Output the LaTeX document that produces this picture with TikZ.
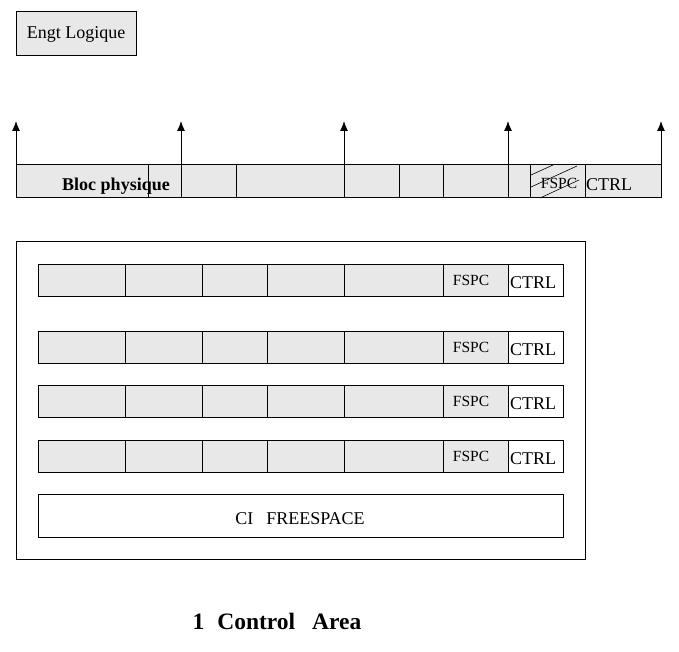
\documentclass[tikz,border=0pt]{standalone}
\usepackage{fontspec}
\setmainfont{Liberation Serif}
\usetikzlibrary{arrows.meta,positioning}

\begin{document}
\begin{tikzpicture}[x=1pt,y=-1pt,draw=black,>={Latex[length=10pt,width=8pt]},line width=1pt]
	\tikzstyle{cell}=[draw,fill=black!9]
	\tikzstyle{blank}=[draw,fill=white]
	\tikzstyle{big}=[font=\fontsize{18}{20}\selectfont,inner sep=0pt]
	\tikzstyle{small}=[font=\fontsize{15.5}{17}\selectfont,inner sep=0pt]
\useasboundingbox (0,0) rectangle (679,652);

% logical record
\node[cell,big,minimum width=120pt,minimum height=44pt](engt) at (76,34){Engt Logique};

% physical block
\draw[cell] (16,165) rectangle (661,198);
\foreach \x in {148,236,399,443,530,585}
	\draw (\x,165) -- (\x,198);
\draw[line width=0.6pt] (531,175) -- (553,165);
\draw[line width=0.6pt] (531,187) -- (577,166);
\draw[line width=0.6pt] (540,198) -- (579,180);
\node[font=\fontsize{18}{20}\selectfont\bfseries,inner sep=0pt](bloc) at (116,186){Bloc physique};
\node[small](fspc0) at (559,183){FSPC};
\node[big](ctrl0) at (609,185){CTRL};

% record starts
\foreach \x [count=\i] in {16,181,344,508,661}{
	\coordinate (b\i) at (\x,198);
	\coordinate (t\i) at (\x,121);
	\draw[->] (b\i) -- (t\i);
}

% control area
\draw[fill=white] (16,241) rectangle (585,559);
\foreach \y [count=\r] in {264,331,385,440}{
	\draw[cell] (38,\y) rectangle (508,\y+32);
	\draw[blank] (508,\y) rectangle (563,\y+32);
	\foreach \x in {125,202,267,344,443}
		\draw (\x,\y) -- (\x,\y+32);
	\node[small](fspc\r) at (471,\y+16){FSPC};
	\node[big](ctrl\r) at (533,\y+19){CTRL};
}
\draw[blank] (38,494) rectangle (563,537);
\node[big](free) at (300,519){CI\hspace{13pt}FREESPACE};

\node[font=\fontsize{23.5}{26}\selectfont\bfseries,inner sep=0pt](title) at (277,621){1\hspace{13pt}Control\hspace{17pt}Area};

\end{tikzpicture}
\end{document}
